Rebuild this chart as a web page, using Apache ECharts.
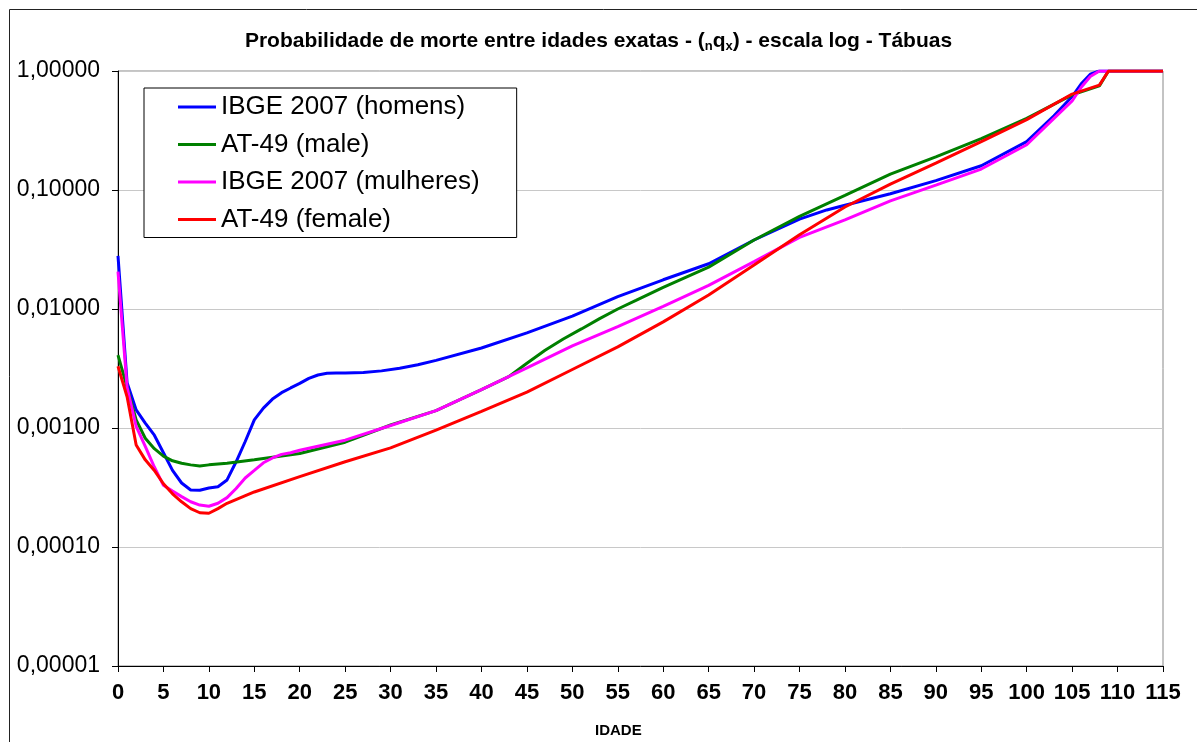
<!DOCTYPE html>
<html>
<head>
<meta charset="utf-8">
<script src="https://cdn.jsdelivr.net/npm/echarts@6/dist/echarts.min.js"></script>
<style>
html,body{margin:0;padding:0;background:#fff;}
#c{width:1197px;height:742px;}
</style>
</head>
<body>
<div id="c"></div>
<script>
var seriesNames = ['IBGE 2007 (homens)', 'AT-49 (male)', 'IBGE 2007 (mulheres)', 'AT-49 (female)'];
var seriesColors = ['#0000FF', '#008000', '#FF00FF', '#FF0000'];
var xTicks = [0,5,10,15,20,25,30,35,40,45,50,55,60,65,70,75,80,85,90,95,100,105,110,115];

var ibgeHomensAges = [0,1,2,3,4,5,6,7,8,9,10,11,12,13,14,15,16,17,18,19,20,21,22,23,24,25,27,29,31,33,35,40,45,50,55,60,65,70,75,78,80,85,90,95,100,103,105,106,107,108,110,115];
var ibgeHomensQx = [0.028,0.0024,0.00142,0.0011,0.00087,0.00062,0.00044,0.000345,0.000301,0.0003,0.000313,0.000321,0.000366,0.00052,0.00077,0.00117,0.00147,0.00175,0.00198,0.00217,0.00237,0.00261,0.00279,0.00288,0.0029,0.0029,0.00293,0.00302,0.00318,0.0034,0.0037,0.0047,0.0063,0.0087,0.0127,0.0176,0.024,0.038,0.057,0.068,0.0745,0.093,0.12,0.16,0.255,0.42,0.61,0.78,0.94,1,1,1];

var at49MaleAges = [0,1,2,3,4,5,6,7,8,9,10,12,15,20,25,30,35,40,43,45,47,49,51,53,55,57,60,65,70,75,80,85,90,95,100,105,108,109,110,115];
var at49MaleQx = [0.0041,0.0022,0.00117,0.00082,0.00067,0.00058,0.00053,0.000505,0.00049,0.00048,0.00049,0.000505,0.00054,0.00061,0.00076,0.00106,0.0014,0.0021,0.0027,0.0035,0.0045,0.0056,0.0068,0.0083,0.01,0.0118,0.0152,0.0225,0.038,0.06,0.09,0.136,0.19,0.27,0.4,0.63,0.75,1,1,1];

var ibgeMulheresAges = [0,1,2,3,4,5,6,7,8,9,10,11,12,13,14,15,16,17,18,19,20,25,30,35,40,45,50,55,60,65,70,75,80,85,90,95,100,103,105,106,107,108,110,115];
var ibgeMulheresQx = [0.0206,0.0022,0.00103,0.0007,0.00047,0.00033,0.000295,0.000265,0.00024,0.000225,0.00022,0.000233,0.00026,0.00031,0.00038,0.00044,0.00051,0.00056,0.0006,0.00062,0.00065,0.00079,0.00105,0.0014,0.0021,0.0032,0.0049,0.0071,0.0105,0.0158,0.025,0.04,0.056,0.081,0.11,0.15,0.24,0.4,0.56,0.73,0.9,1,1,1];

var at49FemaleAges = [0,1,2,3,4,5,6,7,8,9,10,11,12,15,20,25,30,35,40,45,50,55,60,65,70,75,80,85,90,95,100,105,108,109,110,115];
var at49FemaleQx = [0.0033,0.00183,0.00072,0.00054,0.00044,0.00034,0.00028,0.00024,0.00021,0.000194,0.000192,0.00021,0.000233,0.00029,0.00039,0.00052,0.00068,0.00096,0.00138,0.002,0.0031,0.0048,0.0078,0.0131,0.0234,0.042,0.072,0.112,0.168,0.255,0.39,0.64,0.76,1,1,1];

function pairs(a, v) { return a.map(function (x, i) { return [x, v[i]]; }); }
var allAges = [ibgeHomensAges, at49MaleAges, ibgeMulheresAges, at49FemaleAges];
var allQx = [ibgeHomensQx, at49MaleQx, ibgeMulheresQx, at49FemaleQx];

var chart = echarts.init(document.getElementById('c'), null, {renderer: 'canvas'});
var FONT = 'Liberation Sans, Arial, sans-serif';

var option = {
  backgroundColor: '#fff',
  animation: false,
  title: {
    text: '{t|Probabilidade de morte entre idades exatas - (}{s|n}{t|q}{s|x}{t|) - escala log - Tábuas}',
    left: 'center',
    top: 24,
    textStyle: {
      rich: {
        t: {fontFamily: FONT, fontSize: 21, fontWeight: 'bold', color: '#000', lineHeight: 24},
        s: {fontFamily: FONT, fontSize: 13, fontWeight: 'bold', color: '#000', lineHeight: 24, padding: [11, 0, 0, 0]}
      }
    }
  },
  legend: {
    orient: 'vertical',
    left: 144,
    top: 88,
    padding: [5, 37, 4, 34],
    itemGap: 9.5,
    itemWidth: 38,
    itemHeight: 3,
    icon: 'rect',
    borderColor: '#000',
    borderWidth: 1,
    backgroundColor: '#fff',
    data: seriesNames,
    textStyle: {fontFamily: FONT, fontSize: 26, color: '#000', lineHeight: 28}
  },
  grid: {
    left: 118, right: 34, top: 71, bottom: 76,
    show: true, borderColor: '#888', borderWidth: 1, backgroundColor: 'transparent'
  },
  xAxis: {
    type: 'value',
    min: 0, max: 115, interval: 5,
    axisLine: {onZero: false, lineStyle: {color: '#000', width: 1}},
    axisTick: {show: true, length: 6, inside: false, lineStyle: {color: '#000'}},
    splitLine: {show: false},
    axisLabel: {
      fontFamily: FONT, fontSize: 22, fontWeight: 'bold', color: '#000', margin: 16,
      formatter: function (v) { return xTicks.indexOf(v) >= 0 ? String(v) : ''; }
    }
  },
  yAxis: {
    type: 'log',
    logBase: 10,
    min: 0.00001, max: 1,
    axisLine: {show: true, lineStyle: {color: '#000', width: 1}},
    axisTick: {show: true, length: 6, inside: false, lineStyle: {color: '#000'}},
    minorTick: {show: false},
    splitLine: {show: true, lineStyle: {color: '#c8c8c8', width: 1}},
    axisLabel: {
      fontFamily: FONT, fontSize: 23, color: '#000', margin: 18,
      formatter: function (v) { return Number(v).toFixed(5).replace('.', ','); }
    }
  },
  graphic: [
    {type: 'rect', shape: {x: 9.5, y: 9.5, width: 1200, height: 760}, style: {fill: 'none', stroke: '#222', lineWidth: 1}, silent: true, z: 100},
    {type: 'text', left: 595, top: 723, style: {text: 'IDADE', fontFamily: FONT, fontSize: 15, fontWeight: 'bold', fill: '#000'}}
  ],
  series: seriesNames.map(function (n, i) {
    return {
      name: n,
      type: 'line',
      data: pairs(allAges[i], allQx[i]),
      showSymbol: false,
      symbol: 'none',
      smooth: false,
      lineStyle: {color: seriesColors[i], width: 3},
      itemStyle: {color: seriesColors[i]},
      z: 2 + i
    };
  })
};
chart.setOption(option);
</script>
</body>
</html>
